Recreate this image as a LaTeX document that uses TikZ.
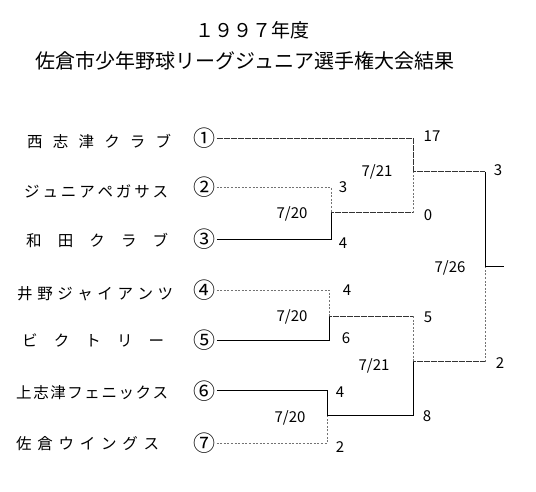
\documentclass[tikz,border=0pt]{standalone}
\usepackage{fontspec}
\setmainfont{Noto Sans CJK JP}
\newcommand{\spreadname}[2]{\hbox to #1{#2}}
\begin{document}
\begin{tikzpicture}[x=1pt,y=-1pt,
    team/.style={anchor=west,inner sep=0pt,font=\fontsize{15.5}{16}\selectfont},
    seed/.style={inner sep=0pt,outer sep=1.5pt,font=\fontsize{22}{22}\selectfont},
    score/.style={inner sep=0pt,font=\fontsize{15}{15}\selectfont},
    win/.style={black,line width=0.7pt},
    winlt/.style={black!80,line width=0.8pt,dash pattern=on 3pt off 0.5pt},
    lose/.style={black!55,line width=0.6pt,dash pattern=on 2pt off 1.6pt}]
    \useasboundingbox (0,0) rectangle (536,492);

    % Title
    \node (title1) at (252,30) {\fontsize{19}{20}\selectfont １９９７年度};
    \node (title2) at (245,61) {\fontsize{20}{21}\selectfont 佐倉市少年野球リーグジュニア選手権大会結果};

    % Teams
    \node[team] (t1) at (27,141.5) {\spreadname{144pt}{西\hfil 志\hfil 津\hfil ク\hfil ラ\hfil ブ}};
    \node[team] (t2) at (24,191.5) {\spreadname{144pt}{ジ\hfil ュ\hfil ニ\hfil ア\hfil ペ\hfil ガ\hfil サ\hfil ス}};
    \node[team] (t3) at (26,240.5) {\spreadname{142pt}{和\hfil 田\hfil ク\hfil ラ\hfil ブ}};
    \node[team] (t4) at (17,294) {\spreadname{156pt}{井\hfil 野\hfil ジ\hfil ャ\hfil イ\hfil ア\hfil ン\hfil ツ}};
    \node[team] (t5) at (22,340.5) {\spreadname{142pt}{ビ\hfil ク\hfil ト\hfil リ\hfil ー}};
    \node[team] (t6) at (16,393) {\spreadname{152pt}{上\hfil 志\hfil 津\hfil フ\hfil ェ\hfil ニ\hfil ッ\hfil ク\hfil ス}};
    \node[team] (t7) at (16,443.5) {\spreadname{143pt}{佐\hfil 倉\hfil ウ\hfil イ\hfil ン\hfil グ\hfil ス}};

    % Seeds
    \node[seed] (s1) at (204,138.3) {①};
    \node[seed] (s2) at (204,187.3) {②};
    \node[seed] (s3) at (204,239.3) {③};
    \node[seed] (s4) at (204,290) {④};
    \node[seed] (s5) at (204,340) {⑤};
    \node[seed] (s6) at (204,390.7) {⑥};
    \node[seed] (s7) at (204,443.3) {⑦};

    % Junctions
    \coordinate (m23) at (331,212.7);
    \coordinate (m45) at (329,316);
    \coordinate (m67) at (327,415.7);
    \coordinate (m13) at (413,171.7);
    \coordinate (m47) at (413,361.7);
    \coordinate (fin) at (485,266);
    \coordinate (out) at (504,266);

    % First round
    \draw[lose] (s2.east) -| (m23);
    \draw[win] (s3.east) -| (m23);
    \draw[lose] (s4.east) -| (m45);
    \draw[win] (s5.east) -| (m45);
    \draw[win] (s6.east) -| (m67);
    \draw[lose] (s7.east) -| (m67);

    % Second round
    \draw[winlt] (s1.east) -| (m13);
    \draw[winlt] (m23) -- (m23 -| m13);
    \draw[lose] (m23 -| m13) -- (m13);
    \draw[winlt] (m45) -- (m45 -| m47);
    \draw[lose] (m45 -| m47) -- (m47);
    \draw[win] (m67) -| (m47);

    % Final
    \draw[winlt] (m13) -- (m13 -| fin);
    \draw[win] (m13 -| fin) -- (fin);
    \draw[winlt] (m47) -- (m47 -| fin);
    \draw[lose] (m47 -| fin) -- (fin);
    \draw[win] (fin) -- (out);

    % Dates and scores
    \node[score] (d1) at (292,214) {7/20};
    \node[score] (d2) at (292,317) {7/20};
    \node[score] (d3) at (290,417.5) {7/20};
    \node[score] (d4) at (377,172) {7/21};
    \node[score] (d5) at (374,366) {7/21};
    \node[score] (d6) at (450,268) {7/26};
    \node[score] (r2) at (343,187) {3};
    \node[score] (r3) at (343,243) {4};
    \node[score] (r4) at (347,290) {4};
    \node[score] (r5) at (346,338.5) {6};
    \node[score] (r6) at (340,392) {4};
    \node[score] (r7) at (340,447.5) {2};
    \node[score] (r1) at (432,136) {17};
    \node[score] (r23) at (428,215) {0};
    \node[score] (r45) at (428,317.5) {5};
    \node[score] (r67) at (427,416) {8};
    \node[score] (f1) at (498,170) {3};
    \node[score] (f2) at (500,363) {2};
\end{tikzpicture}
\end{document}
